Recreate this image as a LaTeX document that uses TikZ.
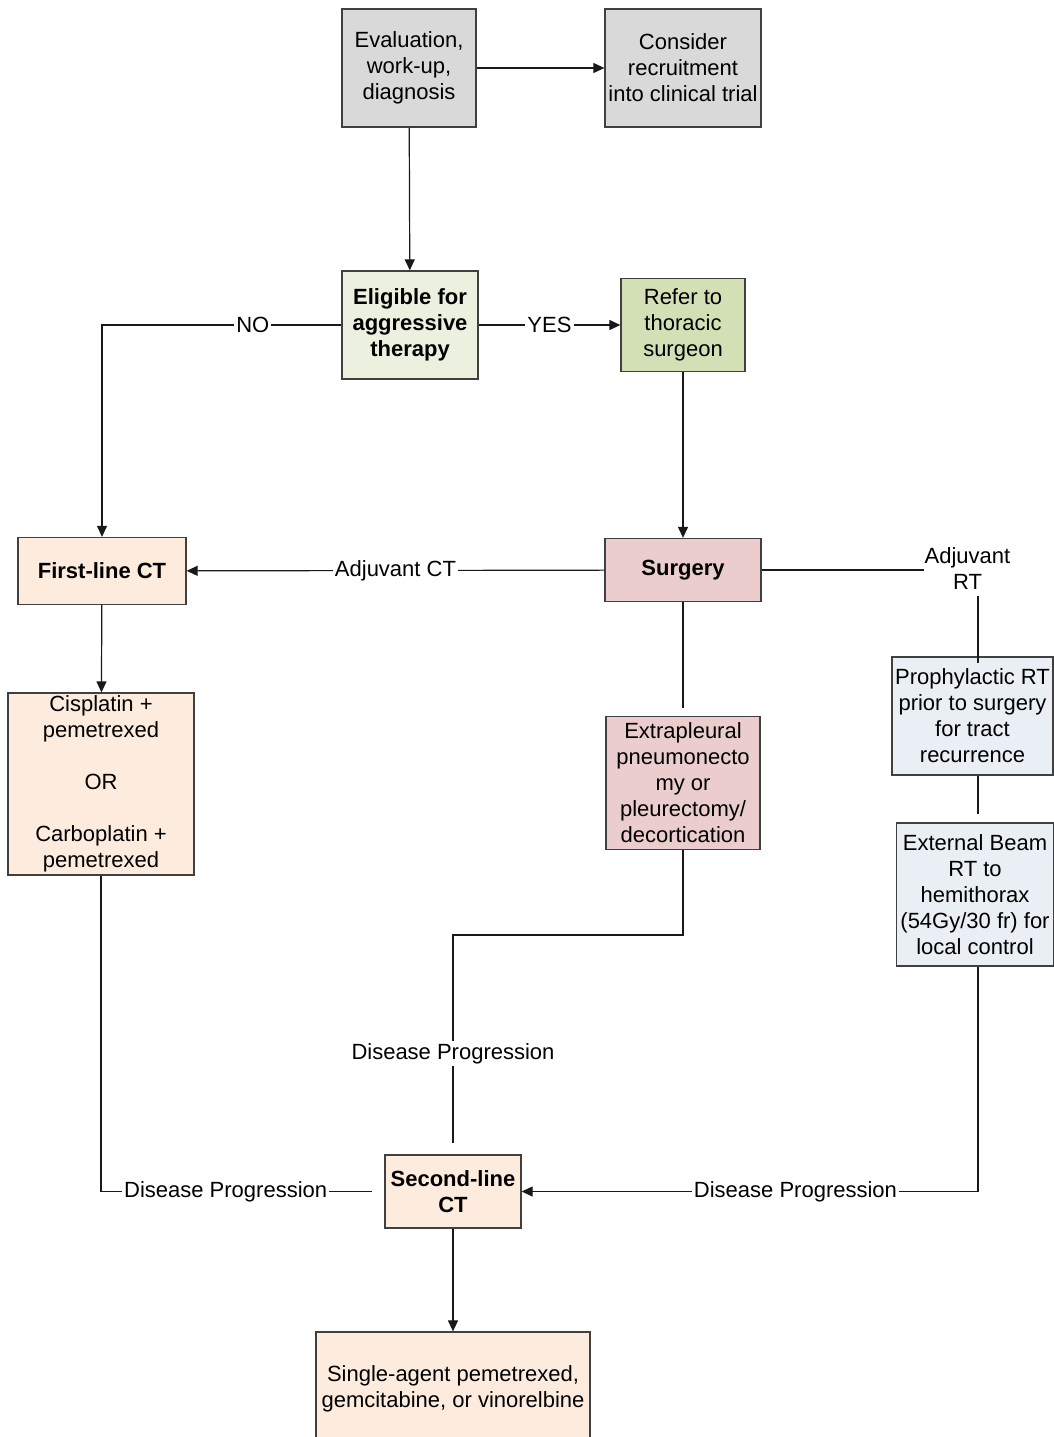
\documentclass[tikz,border=0pt]{standalone}
\usepackage{fontspec}
\setmainfont{Liberation Sans}
\usetikzlibrary{arrows.meta}
\definecolor{cgrey}{HTML}{D9D9D9}
\definecolor{clgreen}{HTML}{EBF1DE}
\definecolor{cgreen}{HTML}{D3E0B5}
\definecolor{cpink}{HTML}{EACDCC}
\definecolor{cpeach}{HTML}{FDEBDD}
\definecolor{cblue}{HTML}{EAEFF5}
\definecolor{cborder}{HTML}{404040}
\begin{document}
\begin{tikzpicture}[x=1pt,y=-1pt,
  box/.style={draw=cborder, line width=1.3pt, align=center, inner sep=0pt,
    font=\fontsize{22}{26}\selectfont},
  bbox/.style={box, font=\fontsize{22}{26}\selectfont\bfseries},
  lbl/.style={fill=white, inner sep=2pt, font=\fontsize{22}{26}\selectfont},
  conn/.style={line width=1.2pt, draw=black!90},
  arr/.style={conn, -{Triangle[length=11pt,width=10pt]}}]
\useasboundingbox (0,0) rectangle (1054,1437);
% nodes
\node[box, fill=cgrey, minimum width=134, minimum height=118] (eval) at (409,68) {Evaluation,\\work-up,\\diagnosis};
\node[box, fill=cgrey, minimum width=156, minimum height=118] (consider) at (683,68) {Consider\\recruitment\\into clinical trial};
\node[bbox, fill=clgreen, minimum width=136, minimum height=108] (elig) at (410,325) {Eligible for\\aggressive\\therapy};
\node[box, fill=cgreen, minimum width=124, minimum height=93] (refer) at (683,325) {Refer to\\thoracic\\surgeon};
\node[bbox, fill=cpink, minimum width=156, minimum height=63] (surg) at (683,570) {Surgery};
\node[bbox, fill=cpeach, minimum width=168, minimum height=67] (first) at (102,571) {First-line CT};
\node[box, fill=cpeach, minimum width=186, minimum height=182] (cis) at (101,784) {Cisplatin +\\pemetrexed\\~\\OR\\~\\Carboplatin +\\pemetrexed};
\node[box, fill=cpink, minimum width=154, minimum height=133] (extra) at (683,783) {Extrapleural\\pneumonecto\\my or\\pleurectomy/\\decortication};
\node[box, fill=cblue, minimum width=161, minimum height=118] (prop) at (972.5,716) {Prophylactic RT\\prior to surgery\\for tract\\recurrence};
\node[box, fill=cblue, minimum width=157, minimum height=143] (ext) at (975,894.5) {External Beam\\RT to\\hemithorax\\(54Gy/30 fr) for\\local control};
\node[bbox, fill=cpeach, minimum width=136, minimum height=73] (second) at (453,1191.5) {Second-line\\CT};
\node[box, fill=cpeach, minimum width=274, minimum height=113] (single) at (453,1388.5) {Single-agent pemetrexed,\\gemcitabine, or vinorelbine};
\node[align=center, inner sep=1pt, font=\fontsize{22}{26}\selectfont] (rtlbl) at (967.5,569) {Adjuvant\\RT};
\coordinate (rtx) at (978,0);
\coordinate (k1) at (453,935);
% connectors
\draw[arr] (eval) -- (consider);
\draw[arr] (eval) -- (elig);
\draw[arr] (elig) -- node[lbl]{YES} (refer);
\draw[arr] (elig.west) -- node[lbl, pos=0.37]{NO} (first.north |- elig.west) -- (first.north);
\draw[arr] (refer) -- (surg);
\draw[arr] (surg) -- node[lbl]{Adjuvant CT} (first);
\draw[conn] (surg.east) -- (rtlbl.west |- surg.east);
\draw[conn] ([yshift=-5]rtlbl.south -| rtx) -- ([yshift=-7]prop.north -| rtx);
\draw[conn, shorten >=8pt] (surg.south) -- (extra.north);
\draw[arr] (first) -- (cis);
\draw[conn, shorten >=8pt] (prop.south -| rtx) -- (ext.north -| rtx);
\draw[conn, shorten >=11pt] (extra.south) |- (k1) -- node[lbl, pos=0.54]{Disease Progression} (second.north);
\draw[conn, shorten >=12pt] (cis.south) |- node[lbl, pos=0.72]{Disease Progression} (second.west);
\draw[arr] (ext.south -| rtx) |- node[lbl, pos=0.70]{Disease Progression} (second.east);
\draw[arr] (second) -- (single);
\end{tikzpicture}
\end{document}
